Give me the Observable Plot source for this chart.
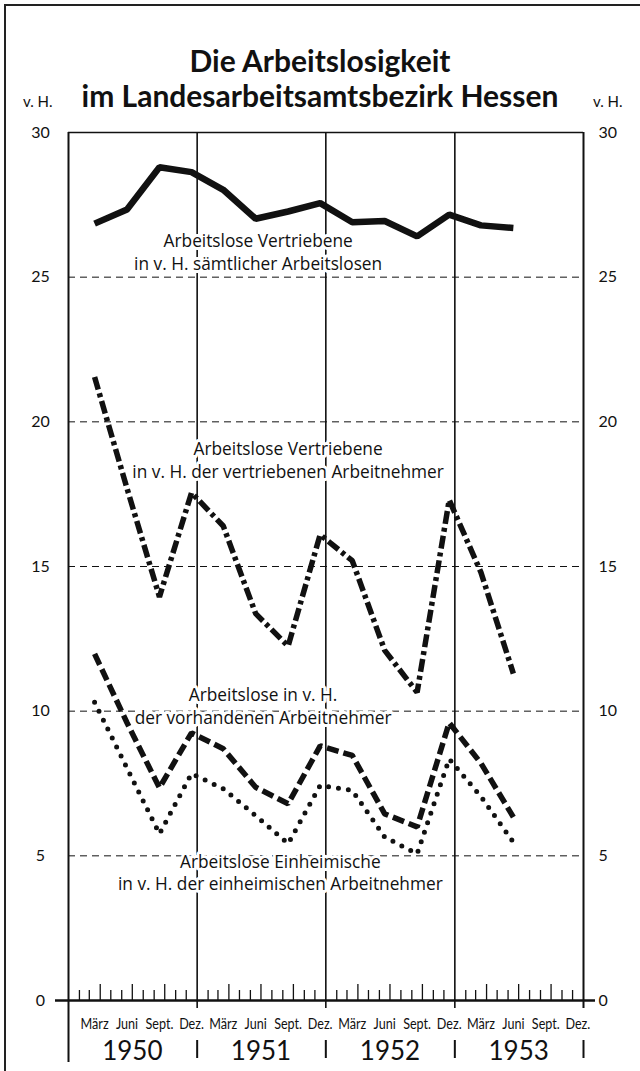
<!DOCTYPE html>
<html><head><meta charset="utf-8">
<script src="https://cdn.jsdelivr.net/npm/d3@7"></script>
<script src="https://cdn.jsdelivr.net/npm/@observablehq/plot@0.6"></script>
<style>
html,body{margin:0;padding:0;background:#fff;}
#wrap{position:relative;width:640px;height:1071px;overflow:hidden;font-family:Lato,sans-serif;color:#111;}
#title{position:absolute;left:0;width:640px;top:43px;text-align:center;font-weight:700;font-size:30px;line-height:35px;}
.vh{position:absolute;top:92px;font-size:15px;}
#border{position:absolute;left:4px;top:4px;width:700px;height:1100px;border-top:2px solid #222;border-left:2px solid #222;}
#chart{position:absolute;left:0;top:0;}
</style></head>
<body>
<div id="wrap">
  <div id="border"></div>
  <div id="chart"></div>
  <div id="title">Die Arbeitslosigkeit<br>im Landesarbeitsamtsbezirk Hessen</div>
  <div class="vh" style="left:23px">v. H.</div>
  <div class="vh" style="left:593px">v. H.</div>
</div>
<script>
// Quarterly observation months
const quarters = ["1950-03","1950-06","1950-09","1950-12","1951-03","1951-06","1951-09","1951-12","1952-03","1952-06","1952-09","1952-12","1953-03","1953-06"];
// Arbeitslose Vertriebene in v. H. sämtlicher Arbeitslosen (solid)
const vertriebeneAnteil = [26.85, 27.34, 28.80, 28.63, 28.02, 27.02, 27.27, 27.56, 26.90, 26.94, 26.41, 27.16, 26.79, 26.70];
// Arbeitslose Vertriebene in v. H. der vertriebenen Arbeitnehmer (dash-dot)
const vertriebeneQuote = [21.55, 17.7, 13.95, 17.55, 16.4, 13.37, 12.25, 16.1, 15.2, 12.1, 10.65, 17.3, 14.8, 11.3];
// Arbeitslose in v. H. der vorhandenen Arbeitnehmer (dashed)
const gesamtQuote = [11.98, 9.6, 7.35, 9.25, 8.7, 7.37, 6.8, 8.8, 8.47, 6.45, 6.0, 9.6, 8.2, 6.34];
// Arbeitslose Einheimische in v. H. der einheimischen Arbeitnehmer (dotted)
const einheimischeQuote = [10.31, 8.03, 5.76, 7.84, 7.32, 6.39, 5.42, 7.43, 7.26, 5.65, 5.07, 8.35, 7.05, 5.47];

const monthLabels = ["März","Juni","Sept.","Dez."];
const years = [1950, 1951, 1952, 1953];
const yTicks = [0, 5, 10, 15, 20, 25, 30];
const gridValues = [5, 10, 15, 20, 25];

const seriesLabels = [
  {text: "Arbeitslose Vertriebene\nin v. H. sämtlicher Arbeitslosen", date: "1951-06-23", value: 25.9},
  {text: "Arbeitslose Vertriebene\nin v. H. der vertriebenen Arbeitnehmer", date: "1951-09-16", value: 18.72},
  {text: "Arbeitslose in v. H.\nder vorhandenen Arbeitnehmer", date: "1951-07-07", value: 10.21},
  {text: "Arbeitslose Einheimische\nin v. H. der einheimischen Arbeitnehmer", date: "1951-08-25", value: 4.45}
];

const midMonth = s => { const [y, m] = s.split("-").map(Number); return new Date(Date.UTC(y, m - 1, 16)); };
const yearStart = y => new Date(Date.UTC(y, 0, 1));

const rows = quarters.map((q, i) => ({
  date: midMonth(q),
  anteil: vertriebeneAnteil[i],
  vquote: vertriebeneQuote[i],
  gquote: gesamtQuote[i],
  equote: einheimischeQuote[i]
}));
const monthLabelRows = years.flatMap(y => monthLabels.map((t, k) => ({date: new Date(Date.UTC(y, 3 * k + 2, 16)), text: t})));
const yearLabelRows = years.map(y => ({date: new Date(Date.UTC(y, 6, 1)), text: String(y)}));
const monthStarts = years.flatMap(y => d3.range(1, 12).map(m => ({date: new Date(Date.UTC(y, m, 1)), tall: m % 3 === 0})));
const innerYears = years.slice(1).map(yearStart);
const allBounds = years.slice(1).concat([1954]).map(yearStart);
const labelRows = seriesLabels.map(d => ({...d, date: new Date(d.date + "T00:00Z")}));

const frameH = 1000 - 132;
const ink = "#111";
const font = "Lato, sans-serif";
const labelFont = "'Open Sans', Lato, sans-serif";

const chart = Plot.plot({
  width: 640,
  height: 1071,
  marginLeft: 68,
  marginRight: 57,
  marginTop: 132,
  marginBottom: 71,
  style: {fontFamily: font, fontSize: "16px", color: ink, background: "transparent"},
  x: {type: "utc", domain: [yearStart(1950), yearStart(1954)], axis: null},
  y: {domain: [0, 30], axis: null},
  marks: [
    Plot.ruleY(gridValues, {stroke: ink, strokeWidth: 1, strokeDasharray: "7,5"}),
    Plot.ruleY([30], {stroke: ink, strokeWidth: 1.6}),
    Plot.ruleX(innerYears, {stroke: ink, strokeWidth: 1.6, insetBottom: -8}),
    Plot.ruleX([yearStart(1950)], {stroke: ink, strokeWidth: 2, insetBottom: -62}),
    Plot.ruleX([yearStart(1954)], {stroke: ink, strokeWidth: 2, insetBottom: -8}),
    Plot.ruleX(allBounds, {stroke: ink, strokeWidth: 2, insetTop: frameH + 40, insetBottom: -58}),
    Plot.ruleX(monthStarts.filter(d => !d.tall), {x: "date", stroke: ink, strokeWidth: 1.3, insetTop: frameH - 10}),
    Plot.ruleX(monthStarts.filter(d => d.tall), {x: "date", stroke: ink, strokeWidth: 1.3, insetTop: frameH - 16}),
    Plot.ruleY([0], {stroke: ink, strokeWidth: 2.6, insetLeft: -13, insetRight: -12}),
    Plot.axisY({anchor: "left", ticks: yTicks, tickSize: 0, tickPadding: 28, textAnchor: "middle", fontSize: 16}),
    Plot.axisY({anchor: "right", ticks: yTicks, tickSize: 0, tickPadding: 15, textAnchor: "start", fontSize: 16}),
    Plot.text(monthLabelRows, {x: "date", y: 0, text: "text", dy: 24, fontSize: 15, fill: ink}),
    Plot.text(yearLabelRows, {x: "date", y: 0, text: "text", dy: 51, fontSize: 26, fill: ink}),
    Plot.text(labelRows, {x: "date", y: "value", text: "text", fontSize: 17.3, lineHeight: 1.32, fontFamily: labelFont, fill: ink, stroke: "white", strokeWidth: 6}),
    Plot.line(rows, {x: "date", y: "anteil", stroke: ink, strokeWidth: 6.5, strokeLinejoin: "miter", strokeLinecap: "butt"}),
    Plot.line(rows, {x: "date", y: "vquote", stroke: ink, strokeWidth: 5.5, strokeLinejoin: "miter", strokeLinecap: "butt", strokeDasharray: "13,4,4,4"}),
    Plot.line(rows, {x: "date", y: "gquote", stroke: ink, strokeWidth: 5.5, strokeLinejoin: "miter", strokeLinecap: "butt", strokeDasharray: "12,5"}),
    Plot.line(rows, {x: "date", y: "equote", stroke: ink, strokeWidth: 5, strokeLinecap: "round", strokeDasharray: "0,10"})
  ]
});
document.getElementById("chart").appendChild(chart);
// condense the month labels horizontally, like the narrow type of the original
d3.select(chart).selectAll("text").filter(function () {
  return monthLabels.includes(this.textContent.trim());
}).each(function () {
  const w = this.getComputedTextLength();
  this.setAttribute("textLength", (w * 0.84).toFixed(1));
  this.setAttribute("lengthAdjust", "spacingAndGlyphs");
});
</script>
</body></html>
